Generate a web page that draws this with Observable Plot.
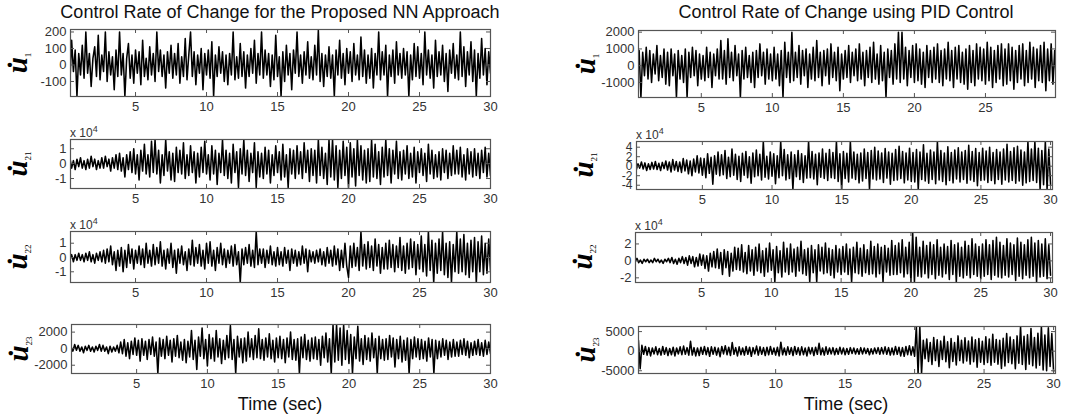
<!DOCTYPE html>
<html>
<head>
<meta charset="utf-8">
<script src="https://cdn.jsdelivr.net/npm/d3@7"></script>
<script src="https://cdn.jsdelivr.net/npm/@observablehq/plot@0.6"></script>
<style>
  body { margin: 0; background: #fff; }
  #fig { position: relative; width: 1080px; height: 419px; overflow: hidden;
         font-family: "Liberation Sans", Arial, sans-serif; background: #fff; }
  .panel { position: absolute; }
  .title { position: absolute; font-size: 18px; line-height: 20px; color: #111;
           white-space: nowrap; transform: translateX(-50%); }
  .xlabel { position: absolute; font-size: 18px; line-height: 20px; color: #111;
            white-space: nowrap; transform: translateX(-50%); }
  .scale { position: absolute; font-size: 12px; line-height: 14px; color: #333; white-space: nowrap; }
  .scale sup { font-size: 9px; vertical-align: 5px; }
  .ylab { position: absolute; white-space: nowrap; color: #000;
          transform: translate(-50%, -50%) rotate(-90deg); line-height: 30px; }
  .ylab i { font-family: "Liberation Serif", "Times New Roman", serif; font-style: italic;
            font-weight: bold; font-size: 29px; }
  .ylab sub { font-family: "Liberation Serif", "Times New Roman", serif; font-size: 9px;
              vertical-align: -4px; }
</style>
</head>
<body>
<div id="fig"></div>
<script>
// Sample grid: one sample every 0.125 s over the 30 s run
const sampleStep = 0.125;

// NN approach — control rate of change
const nnU1 = [
  -190,60,-110,150,-40,90,-190,70,-60,120,
  -80,200,-50,70,-130,40,110,-70,180,-90,
  60,-40,200,-100,80,-60,50,-150,90,-70,
  200,-60,70,-190,40,130,-80,60,-110,90,
  -50,80,-120,150,-70,40,-90,110,-60,70,
  -100,200,-40,90,-70,60,-140,80,-50,120,
  -80,70,-60,130,-110,50,-70,160,-90,60,
  200,-70,80,-120,60,-50,100,-150,70,-60,
  90,-80,140,-190,60,-70,110,-50,80,-100,
  60,-120,70,-60,200,-90,50,-80,130,-70,
  80,-140,60,-70,100,-50,150,-110,70,-60,
  200,-80,90,-60,70,-130,60,-90,180,-70,
  50,-190,80,-100,120,-60,70,-150,90,-50,
  200,-70,60,-110,80,-60,140,-80,50,-90,
  120,-60,210,-100,70,-130,60,-70,110,-80,
  60,-190,90,-60,150,-80,70,-120,100,-50,
  80,-100,130,-60,60,-90,170,-70,90,-110,
  60,-80,100,-140,70,-60,200,-90,80,-60,
  120,-190,60,-70,90,-110,140,-60,70,-80,
  100,-60,80,-190,60,-90,130,-70,110,-80,
  70,-120,200,-60,90,-80,60,-140,150,-70,
  80,-60,120,-100,70,-160,90,-50,130,-80,
  60,-90,200,-70,110,-130,80,-60,140,-100,
  90,-190,70,-80,160,-60,100,-120,80,-50
];
// in units of 10^4
const nnU21 = [
  .3,-.2,.4,-.3,.2,-.4,.3,-.2,.4,-.3,
  .2,-.4,.3,-.3,.5,-.2,.3,-.4,.2,-.3,
  .4,-.3,.5,-.2,.3,-.5,.4,-.3,.6,-.4,
  .7,-.5,.4,-.9,.6,-.4,.8,-.6,1.0,-.7,
  .6,-1.1,.9,-.5,1.3,-.7,.6,-.9,1.5,-.6,
  1.6,-.7,.9,-1.3,.6,-.8,1.6,-.5,.8,-1.1,
  .7,-1.2,1.1,-.6,.9,-.7,1.4,-1.0,.6,-.8,
  1.2,-.6,.8,-1.3,.7,-.9,1.1,-.6,1.5,-.7,
  .6,-1.1,1.2,-.7,.9,-1.4,.7,-.6,1.6,-.8,
  .9,-1.0,.7,-1.3,1.3,-.6,.8,-1.6,1.0,-.7,
  1.6,-.8,.9,-1.2,.7,-.6,1.4,-1.6,.8,-.9,
  .7,-1.0,1.1,-.7,.9,-1.3,.6,-.8,1.2,-.6,
  .8,-1.1,1.3,-.9,.6,-1.6,1.0,-.7,.9,-1.0,
  1.2,-.7,.8,-1.0,1.4,-.6,.9,-1.2,1.0,-.8,
  .9,-1.3,1.6,-.8,1.1,-1.0,.7,-1.4,1.6,-.9,
  1.6,-1.1,1.2,-1.6,.9,-1.0,1.5,-.8,1.1,-1.6,
  1.4,-.9,1.0,-1.5,1.6,-.8,1.2,-1.1,.9,-1.3,
  1.0,-1.2,1.6,-.9,1.3,-1.0,.8,-1.4,1.1,-.9,
  1.6,-.8,1.0,-1.3,.9,-.7,1.5,-1.0,.8,-1.1,
  .9,-.7,1.2,-1.0,.7,-.9,1.1,-1.3,.8,-.6,
  1.0,-.8,.7,-1.2,1.3,-.7,.9,-1.0,.6,-.9,
  .8,-1.1,1.0,-.6,.9,-1.0,.7,-.8,1.2,-.7,
  .9,-.7,1.1,-.9,.6,-1.1,1.0,-.7,.8,-.9,
  1.0,-.8,.7,-1.0,.9,-.6,1.1,-.9,.7,-.8
];
// in units of 10^4
const nnU22 = [
  -1.7,.3,-.2,.2,-.3,.2,-.2,.3,-.2,.2,
  -.3,.3,-.2,.4,-.3,.2,-.4,.3,-.2,.4,
  -.3,.5,-.4,.6,-.3,.8,-.5,.4,-.9,.5,
  -.6,.7,-1.0,.5,-.7,.9,-.4,.6,-.8,.5,
  -.4,.8,-.5,.6,-.7,1.0,-.4,.5,-.6,.9,
  -.5,.7,-.4,1.1,-.6,.5,-.8,.6,-.4,1.0,
  -.7,.5,-1.1,.6,-.4,.8,-.5,.4,-.9,.6,
  -.5,1.2,-.6,.7,-.4,.9,-.6,.5,-.8,1.0,
  -.4,1.1,-.6,.5,-.9,.7,-.4,1.0,-.5,.6,
  -.7,.5,-.4,.8,-.6,.9,-.5,.4,-1.75,.6,
  -.5,.7,-.4,.9,-.6,.5,-.7,1.82,-.5,.6,
  -.4,.6,-.7,.5,-.4,.8,-.5,.4,-.6,.7,
  -.5,.4,-.6,.7,-.4,.5,-.9,.6,-.4,.5,
  -.6,.4,-.5,.8,-.4,.6,-1.0,.5,-.3,.4,
  -.4,.5,-.3,.6,-.5,.4,-.6,.7,-.4,.5,
  -.6,.8,-.5,.6,-.9,.5,-.7,1.0,-.6,-1.4,
  .8,-.7,1.0,-.6,.7,-.9,1.82,-.6,.9,-.8,
  1.1,-.7,.8,-.9,1.3,-.6,.9,-1.1,.7,-.8,
  1.0,-.8,1.2,-.7,.9,-1.0,.8,-.7,1.4,-.9,
  .8,-1.1,1.0,-.8,1.3,-.7,1.1,-1.2,.9,-.8,
  1.5,-1.0,.9,-1.3,1.82,-.9,1.2,-1.75,1.0,-1.1,
  1.3,-.9,1.82,-1.2,1.0,-1.4,1.1,-1.75,.9,-1.0,
  1.82,-1.1,1.3,-1.0,1.6,-1.2,1.0,-1.4,1.2,-1.0,
  1.4,-1.75,1.1,-1.0,1.5,-1.2,1.0,-1.1,1.3,-.9
];
const nnU23 = [
  300,-400,200,-300,500,-200,400,-300,200,-500,
  300,-200,400,-300,200,-400,300,-200,500,-300,
  400,-300,200,-600,300,-400,200,-300,400,-500,
  800,-600,1100,-900,700,-1200,900,-700,1300,-800,
  1000,-1500,1200,-800,900,-1300,1100,-700,1400,-900,
  800,-3000,1300,-900,1100,-1200,1500,-800,1000,-1600,
  1200,-900,1600,-1100,800,-1400,1100,-1700,900,-1000,
  2200,-1300,1000,-2500,1400,-900,2500,-1200,1100,-2100,
  1700,-1200,1300,-1500,2200,-1000,1200,-1800,1000,-1300,
  1600,-1100,2800,-1300,1100,-3000,1500,-1000,1200,-1700,
  1300,-1500,2000,-1000,1200,-1300,1600,-1100,2400,-1200,
  1100,-1400,1300,-1000,1800,-1200,1000,-1600,1300,-1100,
  1500,-1200,1100,-1700,1300,-1000,2000,-1300,1100,-1400,
  1200,-3000,1400,-1100,1700,-1300,1000,-1500,1300,-1200,
  1400,-1300,1100,-2000,1500,-1100,1900,-1600,1200,-3000,
  2900,-1600,2900,-1400,2500,-2000,2900,-1300,2200,-1800,
  1700,-3000,1400,-1200,2700,-1500,1200,-1900,1600,-1300,
  1300,-1500,1900,-1100,1200,-3000,1500,-1200,1100,-1400,
  1200,-1300,1600,-1000,1300,-2200,1100,-1200,1500,-1600,
  1000,-1400,1300,-3000,1100,-1200,1400,-1000,1200,-1300,
  1100,-1200,900,-1500,1300,-1000,1100,-3000,1000,-1200,
  900,-1000,1200,-800,1000,-1300,800,-1000,1100,-900,
  800,-900,1000,-700,1200,-800,900,-1100,700,-800,
  900,-700,1100,-800,700,-900,1000,-700,800,-600
];

// PID control — control rate of change
const pidU1 = [
  600,-1500,1400,-700,900,-1900,800,-600,1100,-800,
  900,-1000,700,-500,1200,-900,600,-700,1000,-1100,
  800,-1200,1000,-600,700,-1900,900,-800,600,-1000,
  1000,-1900,800,-700,1100,-600,900,-1200,700,-800,
  600,-900,1100,-700,800,-1300,700,-600,1000,-800,
  1500,-800,900,-1100,1600,-700,800,-900,1200,-600,
  700,-1900,900,-800,1100,-700,600,-1000,800,-1300,
  900,-700,1300,-600,800,-1100,1000,-800,700,-900,
  1100,-800,700,-1200,900,-1900,1400,-700,800,-1000,
  2000,-900,800,-700,1200,-1100,900,-600,1000,-1300,
  700,-800,1100,-900,1500,-700,800,-1200,900,-600,
  1000,-1100,1300,-700,800,-900,1100,-1500,700,-800,
  900,-700,1200,-1000,800,-600,1000,-900,1300,-800,
  800,-1200,900,-700,1100,-1000,1400,-800,700,-1100,
  1200,-900,800,-1900,1000,-700,900,-1100,1300,-800,
  2000,-1000,2000,-800,1100,-1200,900,-700,1200,-1000,
  1300,-900,1000,-1100,800,-1300,1200,-700,900,-1000,
  1100,-800,1300,-1000,900,-1200,1000,-800,1400,-900,
  900,-1300,1100,-800,1200,-1000,800,-1100,1000,-1400,
  1200,-1000,900,-1200,1300,-800,1100,-900,1000,-1100,
  1400,-900,1100,-1300,900,-1000,1200,-800,1300,-1200,
  1000,-1100,1300,-900,1100,-1400,900,-1000,1200,-800,
  1300,-1200,900,-1000,1400,-800,1100,-1300,1000,-900,
  1200,-1000,1400,-1500,1000,-900,1300,-1100,900,-1000
];
// in units of 10^4
const pidU21 = [
  .6,-.8,.5,-.4,.9,-.6,.7,-.9,.5,-.7,
  .8,-.6,1.0,-.7,.6,-.9,.8,-.5,1.1,-.8,
  .9,-1.2,1.4,-.8,1.0,-1.1,.9,-1.3,1.6,-1.0,
  1.3,-1.6,1.1,-2.0,1.5,-1.2,2.2,-1.4,1.7,-1.9,
  1.6,-2.4,2.6,-1.5,1.9,-3.8,2.2,-1.7,3.0,-2.0,
  2.4,-1.8,3.3,-2.6,1.9,-2.2,3.6,-1.9,2.5,-2.8,
  2.1,-3.2,2.7,-1.9,3.1,-2.4,2.0,-3.6,2.8,-2.2,
  3.4,-2.0,2.5,-2.9,5.2,-2.3,2.1,-2.7,3.0,-2.1,
  2.6,-3.7,2.2,-2.4,5.2,-2.0,3.5,-2.9,2.4,-2.6,
  3.0,-4.9,2.4,-2.2,3.3,-2.8,2.6,-3.4,2.2,-2.5,
  5.2,-2.4,3.1,-2.7,2.5,-3.9,2.8,-2.3,3.6,-2.6,
  2.7,-3.0,3.5,-2.4,2.9,-2.6,5.2,-3.2,2.6,-4.9,
  3.1,-2.6,2.7,-3.3,5.2,-2.5,3.0,-2.8,2.5,-3.5,
  2.8,-3.1,3.6,-2.6,2.9,-4.9,3.3,-2.7,4.0,-2.9,
  3.2,-2.7,2.8,-3.4,3.7,-2.5,3.0,-3.8,2.7,-3.0,
  3.5,-2.9,4.2,-2.6,3.1,-3.5,2.8,-2.9,3.8,-3.2,
  2.9,-3.3,3.5,-4.9,3.0,-2.8,4.5,-3.1,2.7,-3.6,
  3.4,-2.8,3.0,-3.7,5.2,-2.9,3.3,-3.2,2.8,-3.9,
  4.1,-3.0,2.9,-3.5,3.4,-2.7,3.9,-3.3,3.0,-2.8,
  3.3,-3.6,4.4,-2.9,3.1,-3.2,3.7,-4.1,2.9,-3.0,
  3.8,-2.9,3.2,-3.4,4.0,-3.0,2.9,-3.7,3.5,-2.8,
  3.0,-3.8,3.6,-2.9,4.6,-3.3,3.1,-3.0,3.9,-3.6,
  4.2,-3.1,3.4,-4.0,3.0,-3.5,5.2,-3.2,3.6,-3.0,
  5.2,-3.4,3.8,-4.9,3.3,-3.9,5.2,-4.9,3.6,-3.8
];
// in units of 10^4
const pidU22 = [
  .2,-.1,.3,-.2,.1,-.3,.2,-.1,.2,-.2,
  .1,-.2,.3,-.1,.2,-.2,.1,-.3,.2,-.1,
  .3,-.2,.4,-.3,.2,-.4,.3,-.2,.5,-.3,
  .4,-.5,.6,-.3,.5,-.7,.4,-.6,.8,-.5,
  .7,-.9,.6,-1.2,.9,-.7,1.1,-.8,1.4,-.9,
  1.0,-1.6,1.3,-.8,1.1,-1.8,.9,-1.2,1.6,-1.0,
  1.5,-1.1,1.9,-1.3,1.0,-1.5,1.8,-1.2,1.3,-1.7,
  1.6,-1.2,2.0,-1.4,1.2,-1.8,1.5,-1.3,2.1,-1.1,
  1.3,-2.5,1.7,-1.4,1.2,-1.9,2.2,-1.3,1.5,-1.6,
  2.0,-1.3,1.4,-1.8,1.6,-1.2,2.3,-1.5,1.3,-1.7,
  1.5,-2.5,1.8,-1.4,1.3,-2.5,1.9,-1.2,1.6,-1.5,
  2.1,-1.4,1.5,-1.7,1.3,-2.0,1.8,-1.3,1.4,-1.6,
  1.7,-1.3,2.0,-1.6,1.4,-2.5,1.6,-1.4,2.2,-1.5,
  1.5,-1.8,1.9,-1.4,1.3,-1.6,2.3,-1.5,1.7,-1.9,
  2.0,-1.5,1.6,-2.5,1.8,-1.3,1.5,-1.7,2.4,-1.6,
  1.8,-1.6,2.1,-1.4,2.5,-1.9,1.6,-1.5,2.2,-2.5,
  3.35,-2.5,2.8,-1.8,1.6,-1.9,2.3,-1.5,1.8,-2.0,
  2.2,-1.6,1.9,-2.1,2.5,-1.7,1.6,-1.9,2.0,-1.5,
  1.7,-2.2,2.4,-1.6,1.9,-2.5,2.1,-1.8,1.6,-2.0,
  2.3,-1.7,1.8,-2.0,2.6,-1.6,2.0,-1.8,1.7,-2.1,
  2.0,-1.8,2.5,-1.6,1.9,-2.2,2.4,-1.7,2.8,-1.9,
  2.2,-2.0,1.8,-1.7,2.6,-1.9,2.1,-1.6,1.9,-2.3,
  2.7,-1.8,2.2,-2.1,1.9,-1.7,2.5,-2.0,2.8,-1.8,
  2.1,-2.5,2.4,-1.9,2.0,-1.8,2.6,-2.1,1.9,-1.7
];
const pidU23 = [
  2800,-4500,1500,-800,1200,-1000,900,-1200,800,-700,
  1100,-900,700,-1000,1200,-800,900,-1100,700,-900,
  1000,-1200,800,-700,1100,-900,1300,-800,900,-1000,
  2500,-1000,900,-1200,800,-1100,1000,-800,1200,-900,
  900,-1300,1100,-800,1000,-1000,800,-1400,1200,-700,
  1400,-900,1000,-1100,2200,-800,900,-1200,1100,-900,
  800,-1000,1200,-800,1000,-1300,900,-700,1300,-1000,
  1100,-800,900,-1100,1000,-900,1200,-800,800,-1000,
  1000,-1200,2300,-900,800,-1000,1100,-800,900,-1100,
  1200,-800,900,-1000,1100,-900,800,-1200,1000,-700,
  900,-1100,1000,-800,2000,-900,800,-1000,1100,-800,
  800,-700,900,-900,700,-800,1000,-700,800,-900,
  700,-800,900,-600,800,-700,600,-800,900,-700,
  800,-600,700,-900,600,-700,800,-600,900,-800,
  900,-700,1100,-800,900,-1000,800,-900,1200,-800,
  1000,-1200,900,-1300,1200,-900,1400,-1000,1100,-1300,
  6300,-5700,6300,-5700,2800,-1900,3100,-2600,2200,-3400,
  3500,-2400,2900,-3900,2600,-2100,3800,-2700,2400,-4200,
  3200,-2600,2200,-3500,3900,-2400,2800,-3000,3400,-2500,
  2600,-3300,3600,-2700,2900,-4100,3200,-2800,2500,-3400,
  3700,-2900,3100,-3600,4300,-2800,3000,-3300,2800,-4400,
  3300,-3800,4500,-2900,3600,-3200,2900,-4500,3900,-3100,
  6300,-3400,3800,-4700,4200,-3300,5800,-3700,3500,-4300,
  4600,-3600,6300,-4800,4100,-5000,6000,-3900,4500,-5200
];

// Axis tick values
const timeTicks = [5, 10, 15, 20, 25, 30];
const ticksU1nn = [-100, 0, 100, 200];
const ticksU2nn = [-1, 0, 1];
const ticksU23nn = [-2000, 0, 2000];
const ticksU1pid = [-1000, 0, 1000, 2000];
const ticksU21pid = [-4, -2, 0, 2, 4];
const ticksU22pid = [-2, 0, 2];
const ticksU23pid = [-5000, 0, 5000];

// Column titles and axis text
const columnTitles = ["Control Rate of Change for the Proposed NN Approach", "Control Rate of Change using PID Control"];
const timeLabel = "Time (sec)";
const subscripts = ["1", "21", "22", "23"];

// Panel layout: frame pixel box [x0, y0, x1, y1] and axis domains
const panels = [
  {values: nnU1,  ticks: ticksU1nn,   sub: 0, frame: [70, 29, 490, 96],   x: [0.42, 30],   y: [-191, 215],   scale: false, tickFont: 13},
  {values: nnU21, ticks: ticksU2nn,   sub: 1, frame: [70, 139, 490, 188], x: [0.42, 30],   y: [-1.67, 1.62], scale: true,  tickFont: 13},
  {values: nnU22, ticks: ticksU2nn,   sub: 2, frame: [70, 231, 490, 282], x: [0.42, 30],   y: [-1.75, 1.82], scale: true,  tickFont: 13},
  {values: nnU23, ticks: ticksU23nn,  sub: 3, frame: [71, 324, 490, 373], x: [0.4, 30],    y: [-3000, 2920], scale: false, tickFont: 13},
  {values: pidU1,  ticks: ticksU1pid,  sub: 0, frame: [638, 30, 1055, 97],   x: [0.58, 29.93], y: [-1900, 2100], scale: false, tickFont: 13},
  {values: pidU21, ticks: ticksU21pid, sub: 1, frame: [636, 141, 1052, 189], x: [0.27, 30.14], y: [-4.9, 5.2],   scale: true,  tickFont: 12},
  {values: pidU22, ticks: ticksU22pid, sub: 2, frame: [635, 232, 1052, 282], x: [0.27, 30.14], y: [-2.55, 3.35], scale: true,  tickFont: 13},
  {values: pidU23, ticks: ticksU23pid, sub: 3, frame: [638, 326, 1055, 373], x: [0.13, 30.14], y: [-5700, 6300], scale: false, tickFont: 13}
];

const fig = document.getElementById("fig");
const margin = {top: 4, right: 14, bottom: 24, left: 56};
const axisColor = "#555";

function drawPanel(p) {
  const [x0, y0, x1, y1] = p.frame;
  const W = x1 - x0, H = y1 - y0;
  const series = p.values.map((v, i) => ({t: +(sampleStep * (i + 1)).toFixed(3), v}));
  const xt = timeTicks.filter(t => t >= p.x[0] && t <= p.x[1]);
  const tick = 4;
  const chart = Plot.plot({
    width: W + margin.left + margin.right,
    height: H + margin.top + margin.bottom,
    marginTop: margin.top, marginRight: margin.right,
    marginBottom: margin.bottom, marginLeft: margin.left,
    x: {domain: p.x, axis: null},
    y: {domain: p.y, axis: null},
    style: {background: "transparent", color: "#333", fontFamily: "Liberation Sans, Arial, sans-serif", overflow: "visible"},
    marks: [
      Plot.line(series, {x: "t", y: "v", stroke: "#000", strokeWidth: 1.55, clip: true}),
      // inward tick marks on all four sides of the box
      Plot.ruleX(xt, {insetTop: H - tick, stroke: axisColor}),
      Plot.ruleX(xt, {insetBottom: H - tick, stroke: axisColor}),
      Plot.ruleY(p.ticks, {insetRight: W - tick, stroke: axisColor}),
      Plot.ruleY(p.ticks, {insetLeft: W - tick, stroke: axisColor}),
      Plot.axisX({ticks: xt, anchor: "bottom", label: null, tickSize: 0, tickPadding: 5, fontSize: 13, tickFormat: d => String(d)}),
      Plot.axisY({ticks: p.ticks, anchor: "left", label: null, tickSize: 0, tickPadding: 4, fontSize: p.tickFont, tickFormat: d => String(d)}),
      Plot.frame({stroke: axisColor, strokeWidth: 1.2})
    ]
  });
  chart.classList.add("panel");
  chart.style.left = (x0 - margin.left) + "px";
  chart.style.top = (y0 - margin.top) + "px";
  fig.appendChild(chart);

  // rotated quantity label: u-dot with subscript
  const lab = document.createElement("div");
  lab.className = "ylab";
  lab.innerHTML = `<i>u&#x307;</i><sub>${subscripts[p.sub]}</sub>`;
  lab.style.left = (x0 - 48) + "px";
  lab.style.top = ((y0 + y1) / 2) + "px";
  fig.appendChild(lab);

  if (p.scale) {
    const s = document.createElement("div");
    s.className = "scale";
    s.innerHTML = "x 10<sup>4</sup>";
    s.style.left = x0 + "px";
    s.style.top = (y0 - 17) + "px";
    fig.appendChild(s);
  }
}

panels.forEach(drawPanel);

// column titles and time labels
[[columnTitles[0], 280], [columnTitles[1], 846]].forEach(([text, cx]) => {
  const t = document.createElement("div");
  t.className = "title";
  t.textContent = text;
  t.style.left = cx + "px";
  t.style.top = "2px";
  fig.appendChild(t);
  const xl = document.createElement("div");
  xl.className = "xlabel";
  xl.textContent = timeLabel;
  xl.style.left = cx + "px";
  xl.style.top = "394px";
  fig.appendChild(xl);
});
</script>
</body>
</html>
